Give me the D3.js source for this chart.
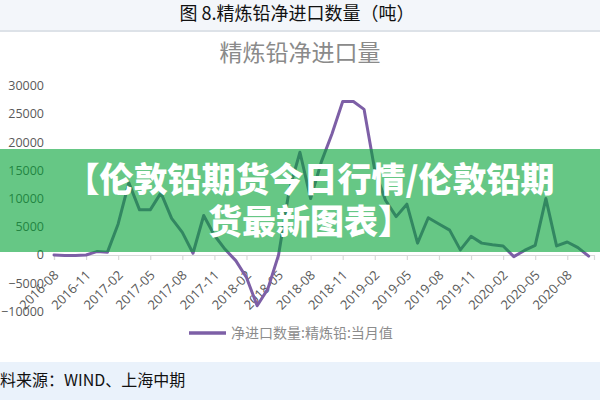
<!DOCTYPE html>
<html>
<head>
<meta charset="utf-8">
<script src="https://cdn.jsdelivr.net/npm/d3@7/dist/d3.min.js"></script>
<style>
  html, body { margin: 0; padding: 0; background: #ffffff; }
  svg { display: block; }
</style>
</head>
<body>
<svg id="chart" width="600" height="400"></svg>
<script>
// ---------- data ----------
const months = [
  "2016-08","2016-09","2016-10","2016-11","2016-12","2017-01","2017-02","2017-03","2017-04","2017-05",
  "2017-06","2017-07","2017-08","2017-09","2017-10","2017-11","2017-12","2018-01","2018-02","2018-03",
  "2018-04","2018-05","2018-06","2018-07","2018-08","2018-09","2018-10","2018-11","2018-12","2019-01",
  "2019-02","2019-03","2019-04","2019-05","2019-06","2019-07","2019-08","2019-09","2019-10","2019-11",
  "2019-12","2020-01","2020-02","2020-03","2020-04","2020-05","2020-06","2020-07","2020-08","2020-09",
  "2020-10"
];
const netImports = [
  0, -100, -100, 0, 600, 500, 5500, 12800, 8000, 8000,
  11000, 6500, 4000, 300, 7000, 3500, 1000, -1000, -4000, -9000,
  -6000, 0, 11500, 18200, 10000, 16500, 21500, 27200, 27200, 25800,
  15000, 9700, 6800, 9000, 2100, 6600, 5500, 4400, 900, 3300,
  2100, 1800, 1600, -300, 800, 1700, 10000, 1600, 2300, 1300,
  -200
];
const yTicks = [-10000, -5000, 0, 5000, 10000, 15000, 20000, 25000, 30000];
const xTickIdx = [0, 3, 6, 9, 12, 15, 18, 21, 24, 27, 30, 33, 36, 39, 42, 45, 48];

const headerText = "图 8.精炼铅净进口数量（吨）";
const chartTitle = "精炼铅净进口量";
const seriesName = "净进口数量:精炼铅:当月值";
const sourceText = "料来源：WIND、上海中期";
const bannerLines = ["【伦敦铅期货今日行情/伦敦铅期", "货最新图表】"];

// ---------- drawing ----------
const svg = d3.select("#chart");
const cjk = "'Noto Sans CJK SC', 'Noto Sans', sans-serif";
const latin = "'Open Sans', 'Liberation Sans', sans-serif";

// header band
svg.append("rect").attr("x", 0).attr("y", 0).attr("width", 600).attr("height", 30).attr("fill", "#f3f6fa");
svg.append("rect").attr("x", 0).attr("y", 30).attr("width", 600).attr("height", 2).attr("fill", "#dde2e8");
svg.append("text").attr("x", 297).attr("y", 14).attr("dy", "0.35em")
  .attr("text-anchor", "middle").attr("font-family", cjk).attr("font-size", 18)
  .attr("fill", "#111").text(headerText);

// title
svg.append("text").attr("x", 300).attr("y", 53).attr("dy", "0.35em")
  .attr("text-anchor", "middle").attr("font-family", cjk).attr("font-size", 23)
  .attr("fill", "#8a8a8a").text(chartTitle);

// scales
const x = d3.scaleLinear().domain([0, 50.5]).range([54, 594]);
const y = d3.scaleLinear().domain([-10000, 30000]).range([311.4, 85.7]);

// y axis labels
const yAxis = svg.append("g").attr("transform", "translate(44,0)")
  .call(d3.axisLeft(y).tickValues(yTicks).tickSize(0).tickPadding(0).tickFormat(d3.format("d")));
yAxis.select(".domain").remove();
yAxis.selectAll("text").attr("font-family", latin).attr("font-size", 12.5).attr("fill", "#595959");

// x axis at zero
const xAxis = svg.append("g").attr("transform", `translate(0,${y(0)})`)
  .call(d3.axisBottom(x).tickValues(xTickIdx).tickFormat(i => months[i]).tickSize(5).tickSizeOuter(5));
xAxis.select(".domain").attr("stroke", "#d9d9d9").attr("stroke-width", 1.2);
xAxis.selectAll(".tick line").attr("stroke", "#d9d9d9").attr("stroke-width", 1.2);
xAxis.selectAll("text")
  .attr("font-family", latin).attr("font-size", 13).attr("fill", "#595959")
  .attr("x", 0).attr("y", 0).attr("dy", 0)
  .attr("text-anchor", "end")
  .attr("transform", "translate(5,21) rotate(-45)");

// line
const line = d3.line().x((d, i) => x(i)).y(d => y(d));
svg.append("path").datum(netImports)
  .attr("d", line).attr("fill", "none")
  .attr("stroke", "#7d5fa6").attr("stroke-width", 3)
  .attr("stroke-linejoin", "round").attr("stroke-linecap", "round");

// legend
svg.append("line").attr("x1", 189).attr("x2", 226).attr("y1", 333).attr("y2", 333)
  .attr("stroke", "#7d5fa6").attr("stroke-width", 3.5);
svg.append("text").attr("x", 231).attr("y", 333).attr("dy", "0.35em")
  .attr("font-family", cjk).attr("font-size", 14).attr("fill", "#8c8c8c").text(seriesName);

// footer band
svg.append("rect").attr("x", 0).attr("y", 362).attr("width", 600).attr("height", 38).attr("fill", "#eaf2fb");
svg.append("text").attr("x", 0).attr("y", 380).attr("dy", "0.35em")
  .attr("font-family", cjk).attr("font-size", 16).attr("fill", "#111").text(sourceText);

// banner overlay
svg.append("rect").attr("x", 0).attr("y", 149).attr("width", 600).attr("height", 103)
  .attr("fill", "rgba(0,162,52,0.6)");
svg.selectAll("text.banner").data(bannerLines).enter().append("text")
  .attr("class", "banner")
  .attr("x", 310).attr("y", (d, i) => 180 + i * 42).attr("dy", "0.36em")
  .attr("text-anchor", "middle").attr("font-family", cjk).attr("font-weight", 900)
  .attr("font-size", 34).attr("fill", "#ffffff").text(d => d);
</script>
</body>
</html>
